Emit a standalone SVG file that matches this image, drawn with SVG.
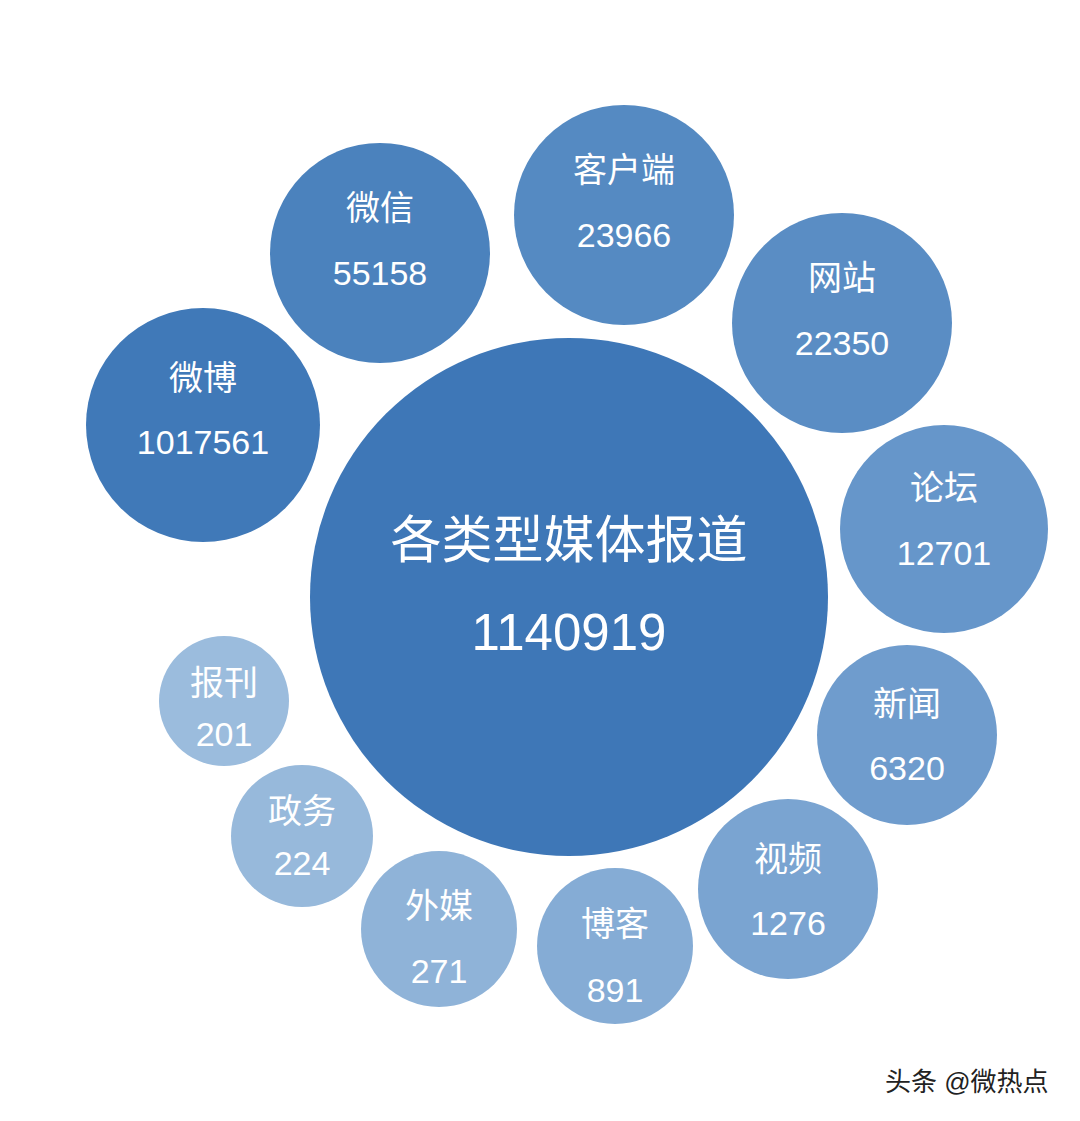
<svg xmlns="http://www.w3.org/2000/svg" width="1080" height="1121" viewBox="0 0 1080 1121">
<style>
text{font-family:"Liberation Sans","Noto Sans CJK SC",sans-serif;fill:#fff;text-anchor:middle}
.l{font-size:34px}
.c{font-size:51px}
.w{fill:#222;font-size:26px;text-anchor:start}
</style>
<rect width="1080" height="1121" fill="#fff"/>
<g id="connectors"/>
<g id="center"><circle cx="569" cy="597" r="259" fill="#3e77b7"/><text class="c" x="569" y="558">各类型媒体报道</text><text class="c" x="569" y="650">1140919</text></g>
<g id="weibo"><circle cx="203" cy="425" r="117" fill="#4079b8"/><text class="l" x="203" y="390">微博</text><text class="l" x="203" y="454">1017561</text></g>
<g id="weixin"><circle cx="380" cy="253" r="110" fill="#4b82bd"/><text class="l" x="380" y="220">微信</text><text class="l" x="380" y="285">55158</text></g>
<g id="kehuduan"><circle cx="624" cy="215" r="110" fill="#558ac2"/><text class="l" x="624" y="182">客户端</text><text class="l" x="624" y="247">23966</text></g>
<g id="wangzhan"><circle cx="842" cy="323" r="110" fill="#5a8dc4"/><text class="l" x="842" y="290">网站</text><text class="l" x="842" y="355">22350</text></g>
<g id="luntan"><circle cx="944" cy="529" r="104" fill="#6696ca"/><text class="l" x="944" y="500">论坛</text><text class="l" x="944" y="565">12701</text></g>
<g id="xinwen"><circle cx="907" cy="735" r="90" fill="#6f9ccd"/><text class="l" x="907" y="716">新闻</text><text class="l" x="907" y="780">6320</text></g>
<g id="shipin"><circle cx="788" cy="889" r="90" fill="#7aa4d1"/><text class="l" x="788" y="871">视频</text><text class="l" x="788" y="935">1276</text></g>
<g id="boke"><circle cx="615" cy="946" r="78" fill="#85acd5"/><text class="l" x="615" y="936">博客</text><text class="l" x="615" y="1002">891</text></g>
<g id="waimei"><circle cx="439" cy="929" r="78" fill="#8fb3d8"/><text class="l" x="439" y="918">外媒</text><text class="l" x="439" y="983">271</text></g>
<g id="zhengwu"><circle cx="302" cy="836" r="71" fill="#97b9db"/><text class="l" x="302" y="823">政务</text><text class="l" x="302" y="875">224</text></g>
<g id="baokan"><circle cx="224" cy="701" r="65" fill="#9bbcdd"/><text class="l" x="224" y="695">报刊</text><text class="l" x="224" y="746">201</text></g>
<text class="w" x="885" y="1091">头条 @微热点</text>
</svg>
